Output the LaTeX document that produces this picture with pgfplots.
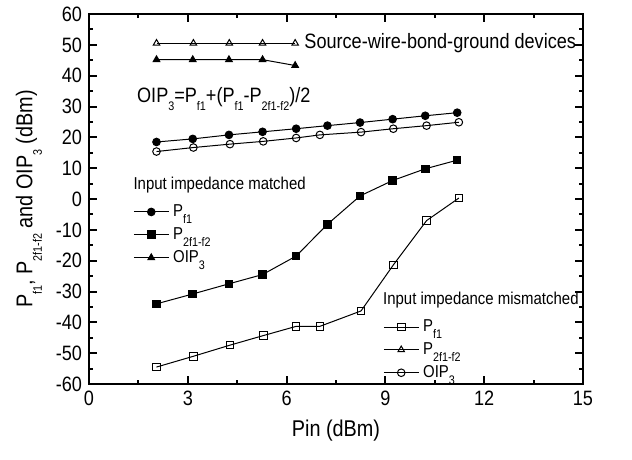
\documentclass[border=0pt]{standalone}
\usepackage{fontspec}
\setmainfont{Liberation Sans}[FakeStretch=0.87]
\usepackage{pgfplots}
\pgfplotsset{compat=1.18}
% lowered small subscript, as in the original figure
\newcommand{\sub}[1]{\raisebox{-0.8ex}{\fontsize{6.2}{7}\selectfont #1}}

\begin{document}
\begin{tikzpicture}
\pgfplotsset{
  common/.style={
    width=247pt, height=185pt, scale only axis,
    xmin=0, xmax=15, ymin=-60, ymax=60,
    legend cell align=left,
    legend image code/.code={
      \draw[mark repeat=2, mark phase=2] plot coordinates {(0pt,0pt) (8.7pt,0pt) (17.4pt,0pt)};
    },
  },
  leg/.style={at={#1}, anchor=north west, draw=none, fill=none,
    font=\fontsize{8.6}{10}\selectfont, row sep=0pt, inner sep=0pt,
    nodes={inner xsep=2pt}},
  curve/.style={black, line width=0.5pt, mark size=1.9pt,
    mark options={solid, line width=0.5pt}},
  open/.style={curve, mark options={solid, fill=white, line width=0.5pt}},
}
% input impedance matched (filled marks) + frame
\begin{axis}[common,
  axis line style={line width=1.2pt},
  xtick={0,3,...,15}, ytick={-60,-50,...,60},
  minor x tick num=1, minor y tick num=1,
  tick align=inside, tick pos=both,
  major tick length=4pt, minor tick length=2pt,
  every tick/.style={black, line width=1pt},
  tick label style={font=\fontsize{10.4}{11}\selectfont},
  /pgf/number format/assume math mode=true,
  xlabel={Pin (dBm)},
  ylabel={P\sub{f1}, P\sub{2f1-f2} and OIP\sub{3} (dBm)},
  label style={font=\fontsize{11.4}{13}\selectfont},
  legend style={leg={(0.089,0.497)}},
]
\addplot[curve, mark=*] coordinates {
  (2.05,18.5) (3.15,19.5) (4.25,20.8) (5.27,21.8) (6.29,22.8)
  (7.24,23.8) (8.23,24.8) (9.22,25.9) (10.21,27.0) (11.18,28.0)
};
\addlegendentry{P\sub{f1}}
\addplot[curve, mark=square*] coordinates {
  (2.05,-34.0) (3.15,-30.8) (4.25,-27.5) (5.27,-24.5) (6.29,-18.5)
  (7.24,-8.2) (8.23,1.0) (9.22,6.0) (10.21,9.8) (11.18,12.6)
};
\addlegendentry{P\sub{2f1-f2}}
\addplot[curve, mark=triangle*] coordinates {
  (2.05,45.2) (3.15,45.2) (4.25,45.2) (5.27,45.2) (6.26,43.3)
};
\addlegendentry{OIP\sub{3}}
\node[anchor=west, font=\fontsize{8.6}{10}\selectfont, inner sep=0pt]
  at (axis cs:1.34,4.6) {Input impedance matched};
\node[anchor=base west, font=\fontsize{10.4}{11}\selectfont, inner sep=0pt]
  at (axis cs:1.45,31.4) {OIP\sub{3}=P\sub{f1}+(P\sub{f1}-P\sub{2f1-f2})/2};
\node[anchor=base west, font=\fontsize{10.4}{11}\selectfont, inner sep=0pt]
  at (axis cs:6.53,48.7) {Source-wire-bond-ground devices};
\end{axis}
% input impedance mismatched (open marks)
\begin{axis}[common, hide axis,
  legend style={leg={(0.595,0.186)}},
]
\addplot[open, mark=square] coordinates {
  (2.05,-54.5) (3.17,-51.0) (4.28,-47.4) (5.29,-44.3) (6.29,-41.3)
  (7.01,-41.3) (8.26,-36.3) (9.24,-21.4) (10.25,-7.0) (11.23,0.3)
};
\addlegendentry{P\sub{f1}}
\addplot[open, mark=triangle] coordinates {
  (2.05,50.5) (3.17,50.5) (4.26,50.5) (5.27,50.5) (6.26,50.5)
};
\addlegendentry{P\sub{2f1-f2}}
\addplot[open, mark=o] coordinates {
  (2.05,15.4) (3.17,16.7) (4.28,17.8) (5.29,18.7) (6.29,19.8)
  (7.01,20.8) (8.26,21.7) (9.24,22.8) (10.25,23.8) (11.23,24.9)
};
\addlegendentry{OIP\sub{3}}
\node[anchor=west, font=\fontsize{8.6}{10}\selectfont, inner sep=0pt]
  at (axis cs:8.92,-32.7) {Input impedance mismatched};
\end{axis}
\path (current axis.south west) ++(-44.5pt,-37.5pt) rectangle ++(316pt,229.5pt);
\end{tikzpicture}
\end{document}
